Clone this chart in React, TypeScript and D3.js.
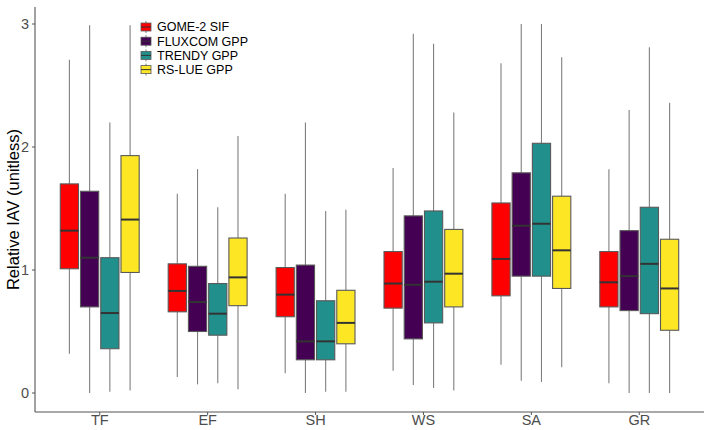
import React, { useEffect, useRef } from 'react';
import * as d3 from 'd3';

const categories = ['TF', 'EF', 'SH', 'WS', 'SA', 'GR'];
const seriesNames = ['GOME-2 SIF', 'FLUXCOM GPP', 'TRENDY GPP', 'RS-LUE GPP'];
const seriesColors = ['#FF0000', '#440154', '#21908C', '#FDE725'];
const yTicks = [0, 1, 2, 3];

// [lowerWhisker, q1, median, q3, upperWhisker] per category
const sifStats = [
  [0.32, 1.01, 1.32, 1.70, 2.71],
  [0.13, 0.66, 0.83, 1.05, 1.62],
  [0.16, 0.62, 0.80, 1.02, 1.62],
  [0.18, 0.69, 0.89, 1.15, 1.83],
  [0.23, 0.79, 1.09, 1.545, 2.68],
  [0.08, 0.70, 0.90, 1.15, 1.82],
];
const fluxcomStats = [
  [0.0, 0.70, 1.10, 1.64, 2.99],
  [0.07, 0.50, 0.74, 1.03, 1.82],
  [0.0, 0.27, 0.42, 1.04, 2.20],
  [0.065, 0.44, 0.88, 1.44, 2.92],
  [0.10, 0.95, 1.36, 1.79, 3.0],
  [0.0, 0.67, 0.95, 1.32, 2.30],
];
const trendyStats = [
  [0.01, 0.36, 0.65, 1.10, 2.20],
  [0.08, 0.47, 0.645, 0.89, 1.51],
  [0.01, 0.27, 0.42, 0.75, 1.48],
  [0.04, 0.57, 0.905, 1.48, 2.84],
  [0.09, 0.95, 1.376, 2.03, 3.0],
  [0.0, 0.645, 1.05, 1.51, 2.81],
];
const rsLueStats = [
  [0.02, 0.98, 1.41, 1.93, 2.99],
  [0.03, 0.71, 0.94, 1.26, 2.09],
  [0.01, 0.40, 0.57, 0.835, 1.49],
  [0.02, 0.70, 0.97, 1.33, 2.28],
  [0.21, 0.85, 1.16, 1.60, 2.73],
  [0.0, 0.51, 0.85, 1.25, 2.36],
];
const allStats = [sifStats, fluxcomStats, trendyStats, rsLueStats];

const width = 709;
const height = 430;

const App: React.FC = () => {
  const svgRef = useRef<SVGSVGElement | null>(null);

  useEffect(() => {
    const svg = d3.select(svgRef.current);
    svg.selectAll('*').remove();

    const left = 35;
    const right = 704;
    const top = 7;
    const bottom = 412;

    const x = d3.scalePoint<string>()
      .domain(categories)
      .range([left, right])
      .padding(0.6);

    const y = d3.scaleLinear()
      .domain([0, 3])
      .range([393, 24]);

    const dodge = x.step() * 0.75;
    const slot = dodge / seriesNames.length;
    const boxW = slot * 0.9;

    const g = svg.append('g');

    allStats.forEach((stats, si) => {
      stats.forEach((s, ci) => {
        const cx = x(categories[ci])! - dodge / 2 + slot * (si + 0.5);
        const [lo, q1, med, q3, hi] = s;
        g.append('line')
          .attr('x1', cx).attr('x2', cx)
          .attr('y1', y(hi)).attr('y2', y(q3))
          .attr('stroke', '#7f7f7f').attr('stroke-width', 1.1);
        g.append('line')
          .attr('x1', cx).attr('x2', cx)
          .attr('y1', y(q1)).attr('y2', y(lo))
          .attr('stroke', '#7f7f7f').attr('stroke-width', 1.1);
        g.append('rect')
          .attr('x', cx - boxW / 2)
          .attr('y', y(q3))
          .attr('width', boxW)
          .attr('height', y(q1) - y(q3))
          .attr('fill', seriesColors[si])
          .attr('stroke', '#595959')
          .attr('stroke-width', 1.1);
        g.append('line')
          .attr('x1', cx - boxW / 2).attr('x2', cx + boxW / 2)
          .attr('y1', y(med)).attr('y2', y(med))
          .attr('stroke', '#333333').attr('stroke-width', 2);
      });
    });

    // axes
    svg.append('line')
      .attr('x1', left).attr('x2', left)
      .attr('y1', top).attr('y2', bottom)
      .attr('stroke', '#555').attr('stroke-width', 1.1);
    svg.append('line')
      .attr('x1', left).attr('x2', right)
      .attr('y1', bottom).attr('y2', bottom)
      .attr('stroke', '#555').attr('stroke-width', 1.1);

    yTicks.forEach(t => {
      svg.append('line')
        .attr('x1', left - 3).attr('x2', left)
        .attr('y1', y(t)).attr('y2', y(t))
        .attr('stroke', '#555');
      svg.append('text')
        .attr('x', left - 6)
        .attr('y', y(t))
        .attr('dy', '0.35em')
        .attr('text-anchor', 'end')
        .attr('font-family', 'Liberation Sans, Arial, sans-serif')
        .attr('font-size', 14.5)
        .attr('fill', '#4d4d4d')
        .text(t);
    });

    categories.forEach(c => {
      svg.append('line')
        .attr('x1', x(c)!).attr('x2', x(c)!)
        .attr('y1', bottom).attr('y2', bottom + 3)
        .attr('stroke', '#555');
      svg.append('text')
        .attr('x', x(c)!)
        .attr('y', bottom + 13)
        .attr('text-anchor', 'middle')
        .attr('font-family', 'Liberation Sans, Arial, sans-serif')
        .attr('font-size', 14.5)
        .attr('fill', '#4d4d4d')
        .text(c);
    });

    svg.append('text')
      .attr('transform', `translate(19,${(top + bottom) / 2}) rotate(-90)`)
      .attr('text-anchor', 'middle')
      .attr('font-family', 'Liberation Sans, Arial, sans-serif')
      .attr('font-size', 16.5)
      .attr('fill', '#000')
      .text('Relative IAV (unitless)');

    // legend
    const legend = svg.append('g');
    seriesNames.forEach((name, i) => {
      const ly = 27 + i * 14.2;
      legend.append('line')
        .attr('x1', 146).attr('x2', 146)
        .attr('y1', ly - 6).attr('y2', ly + 6)
        .attr('stroke', '#7f7f7f');
      legend.append('rect')
        .attr('x', 141).attr('y', ly - 4)
        .attr('width', 10).attr('height', 8)
        .attr('fill', seriesColors[i])
        .attr('stroke', '#595959')
        .attr('stroke-width', 0.8);
      legend.append('line')
        .attr('x1', 141).attr('x2', 151)
        .attr('y1', ly).attr('y2', ly)
        .attr('stroke', '#333');
      legend.append('text')
        .attr('x', 157)
        .attr('y', ly)
        .attr('dy', '0.35em')
        .attr('font-family', 'Liberation Sans, Arial, sans-serif')
        .attr('font-size', 12.5)
        .attr('fill', '#000')
        .text(name);
    });
  }, []);

  return (
    <svg
      ref={svgRef}
      width={width}
      height={height}
      style={{ position: 'absolute', left: 0, top: 0, background: '#fff' }}
    />
  );
};

export default App;
